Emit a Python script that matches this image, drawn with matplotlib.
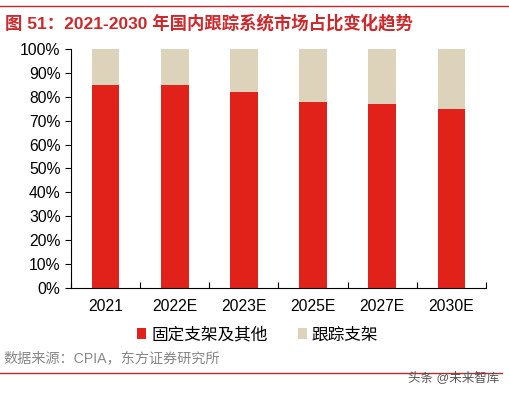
import numpy as np
import matplotlib.pyplot as plt

plt.rcParams['font.family'] = ['Liberation Sans', 'Noto Sans CJK SC', 'DejaVu Sans']

years = ['2021', '2022E', '2023E', '2025E', '2027E', '2030E']
fixed = [85, 85, 82, 78, 77, 75]          # 固定支架及其他
tracking = [100 - v for v in fixed]       # 跟踪支架

red = '#E0221B'
beige = '#DDD3BB'

fig = plt.figure(figsize=(5.1, 3.95), dpi=100)
ax = fig.add_axes([0.139, 0.271, 0.814, 0.605])

x = np.arange(len(years))
ax.bar(x, fixed, width=0.4, color=red, label='固定支架及其他')
ax.bar(x, tracking, width=0.4, bottom=fixed, color=beige, label='跟踪支架')

ax.set_xlim(-0.5, len(years) - 0.5)
ax.set_ylim(0, 100)
ax.set_yticks(np.arange(0, 101, 10))
ax.set_yticklabels([f'{v}%' for v in range(0, 101, 10)])
ax.set_xticks(x)
ax.set_xticklabels(years)
ax.set_xticks(np.arange(-0.5, len(years)), minor=True)
ax.tick_params(axis='x', which='major', length=0, pad=8, labelsize=11.3)
ax.tick_params(axis='x', which='minor', direction='in', length=4, width=0.8)
ax.tick_params(axis='y', direction='out', length=4, width=0.8, labelsize=11.3)
for s in ['top', 'right']:
    ax.spines[s].set_visible(False)
for s in ['left', 'bottom']:
    ax.spines[s].set_linewidth(0.8)

ax.legend(loc='center', bbox_to_anchor=(0.45, -0.195), ncol=2,
          frameon=False, fontsize=12, handlelength=0.55, handleheight=0.55,
          handletextpad=0.3, columnspacing=1.8)

# header / footer
fig.add_artist(plt.Line2D([0, 1], [0.985, 0.985], color='#C0282A', lw=1))
fig.text(0.01, 0.944, '图 51：2021-2030 年国内跟踪系统市场占比变化趋势',
         color='#D0282A', fontsize=12.5, fontweight='bold', va='center')
fig.text(0.006, 0.094, '数据来源：CPIA，东方证券研究所', color='#888888',
         fontsize=10.2, va='center')
fig.add_artist(plt.Line2D([0, 0.985], [0.056, 0.056], color='#C0282A', lw=1))
fig.text(0.978, 0.043, '头条 @未来智库', color='#555555', fontsize=9,
         ha='right', va='center')

fig.savefig('out.png', dpi=100)
